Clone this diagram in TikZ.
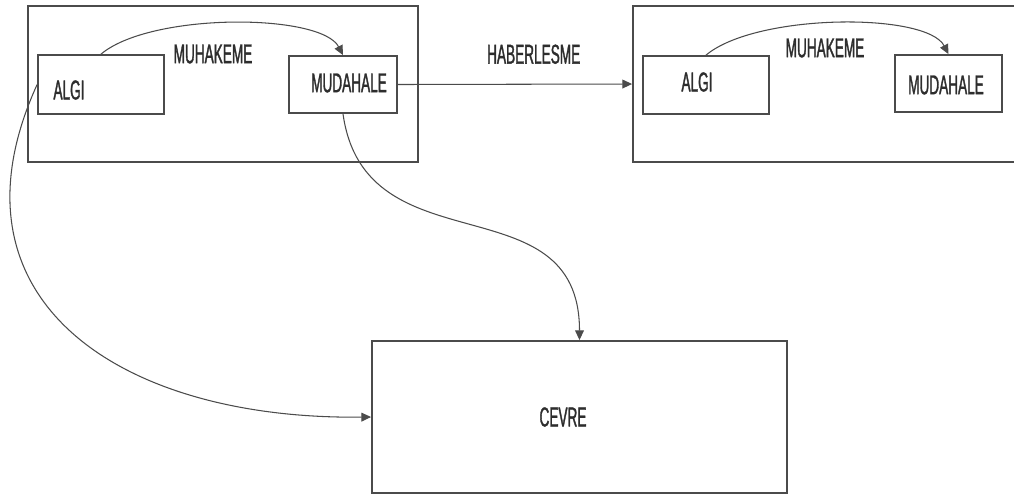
\documentclass[tikz,border=0pt]{standalone}
\usepackage{fontspec}
\usepackage{tikz}
\usetikzlibrary{arrows.meta, calc}
\newfontfamily\narrowfont{Liberation Sans}[FakeStretch=0.5, FakeBold=1.2]
\definecolor{mygray}{RGB}{75,75,75}
\definecolor{mytext}{RGB}{45,45,45}
\tikzset{
  outerbox/.style={rectangle, draw=mygray, line width=1.1pt,
    minimum height=3.12cm, inner sep=0pt},
  block/.style={rectangle, draw=mygray, line width=1pt,
    inner sep=0pt},
  lbl/.style={font=\narrowfont\fontsize{15.5}{15.5}\selectfont,
    text=mytext, inner sep=0pt},
  arrow/.style={-{Triangle[length=5.5pt, width=5pt]}, line width=0.6pt, color=mygray}
}

\begin{document}
\begin{tikzpicture}[x=0.02cm, y=-0.02cm]
  \useasboundingbox (0,0) rectangle (1014,495);
  \clip (0,0) rectangle (1014,495);

  \node[outerbox, minimum width=7.8cm] (agentL) at (223,84) {};
  \node[block, minimum width=2.52cm, minimum height=1.18cm] (algiL) at (101,84.5) {};
  \node[block, minimum width=2.16cm, minimum height=1.14cm] (mudL) at (343,84.5) {};
  \node[lbl] (algiLtxt) at (69,90) {ALGI};
  \node[lbl] (mudLtxt) at (349,83) {MUDAHALE};
  \node[lbl] (muhL) at (213,54) {MUHAKEME};

  \node[outerbox, minimum width=7.94cm] (agentR) at (831.5,84) {};
  \node[block, minimum width=2.52cm, minimum height=1.16cm] (algiR) at (706,85) {};
  \node[block, minimum width=2.14cm, minimum height=1.14cm] (mudR) at (948.5,83.5) {};
  \node[lbl] (algiRtxt) at (697,82) {ALGI};
  \node[lbl] (mudRtxt) at (946,85) {MUDAHALE};
  \node[lbl] (muhR) at (825,48) {MUHAKEME};

  \node[block, line width=1.1pt, minimum width=8.3cm, minimum height=3.04cm] (cevre) at (579.5,417) {};
  \node[lbl] (cevretxt) at (563,417) {CEVRE};

  \draw[arrow] (algiL.north) .. controls +(50,-42) and +(-22,-42) .. (mudL.north);
  \draw[arrow] (algiR.north) .. controls +(50,-42) and +(-22,-42) .. (mudR.north);
  \draw[arrow] (mudL.east) -- (agentR.west)
    node[lbl, pos=0.58, yshift=0.6cm] (haber) {HABERLESME};
  \draw[arrow] (mudL.south) .. controls +(22,157) and +(0,-161) .. (cevre.north);
  \draw[arrow] (algiL.west) .. controls +(-98,215) and +(-252,3) .. (cevre.west);
\end{tikzpicture}
\end{document}
